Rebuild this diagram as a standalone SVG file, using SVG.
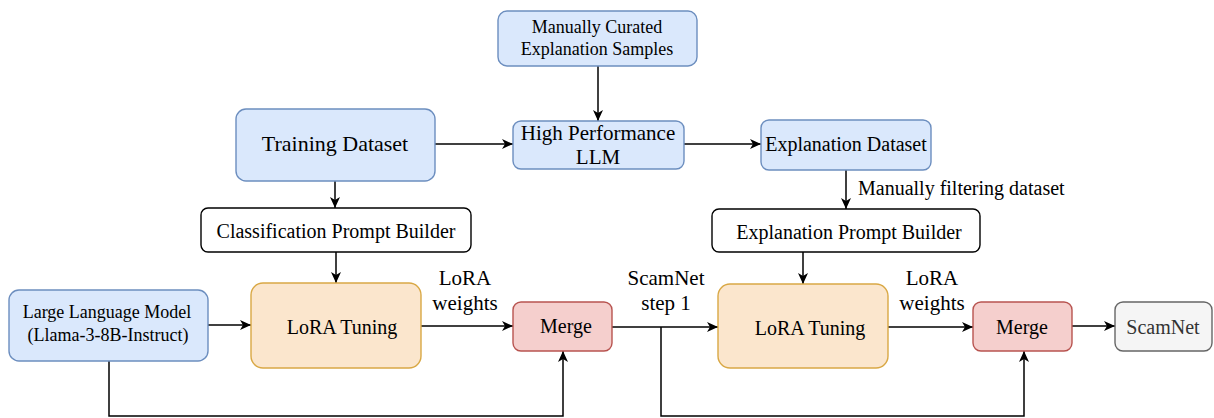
<svg xmlns="http://www.w3.org/2000/svg" width="1214" height="418" viewBox="0 0 1214 418">
<style>
text{font-family:"Liberation Serif","Times New Roman",serif;fill:#000;text-anchor:middle;dominant-baseline:central}
.blue{fill:#dae8fc;stroke:#6c8ebf;stroke-width:1.4}
.white{fill:#fff;stroke:#000;stroke-width:1.4}
.orange{fill:#fbe6cd;stroke:#d9a845;stroke-width:1.4}
.red{fill:#f5cfcd;stroke:#b85450;stroke-width:1.4}
.grey{fill:#f5f5f5;stroke:#666;stroke-width:1.4}
.edge{fill:none;stroke:#000;stroke-width:1.5}
.lbl{font-size:21px}
</style>
<defs>
<marker id="arr" markerUnits="userSpaceOnUse" markerWidth="12" markerHeight="10" refX="11" refY="5" orient="auto">
<path d="M0,0 L11,5 L0,10 L3,5 z" fill="#000"/>
</marker>
</defs>
<g id="connectors">
<path class="edge" d="M598,66 V121" marker-end="url(#arr)"/>
<path class="edge" d="M435,144 H513" marker-end="url(#arr)"/>
<path class="edge" d="M684,144 H761" marker-end="url(#arr)"/>
<path class="edge" d="M846,170 V209" marker-end="url(#arr)"/>
<text x="858" y="188" style="font-size:20px;text-anchor:start">Manually filtering dataset</text>
<path class="edge" d="M335,181 V208" marker-end="url(#arr)"/>
<path class="edge" d="M336,252 V283" marker-end="url(#arr)"/>
<path class="edge" d="M208,325 H251" marker-end="url(#arr)"/>
<path class="edge" d="M421,326 H513" marker-end="url(#arr)"/>
<text class="lbl" x="465" y="278">LoRA</text>
<text class="lbl" x="465" y="303">weights</text>
<path class="edge" d="M109,361 V416 H563 V351" marker-end="url(#arr)"/>
<path class="edge" d="M612,327 H718" marker-end="url(#arr)"/>
<text class="lbl" x="666" y="278">ScamNet</text>
<text class="lbl" x="666" y="303">step 1</text>
<path class="edge" d="M661,327 V416 H1024 V351" marker-end="url(#arr)"/>
<path class="edge" d="M803,252 V284" marker-end="url(#arr)"/>
<path class="edge" d="M888,327 H973" marker-end="url(#arr)"/>
<text class="lbl" x="932" y="278">LoRA</text>
<text class="lbl" x="932" y="303">weights</text>
<path class="edge" d="M1072,326 H1115" marker-end="url(#arr)"/>
</g>
<g id="curated">
<rect class="blue" x="498" y="11" width="199" height="55" rx="9"/>
<text x="597" y="27" style="font-size:18px">Manually Curated</text>
<text x="597" y="49" style="font-size:18px">Explanation Samples</text>
</g>
<g id="training">
<rect class="blue" x="236" y="109" width="199" height="72" rx="10"/>
<text x="335" y="143" style="font-size:22px">Training Dataset</text>
</g>
<g id="hpllm">
<rect class="blue" x="513" y="121" width="171" height="48" rx="8"/>
<text x="598" y="133" style="font-size:21px">High Performance</text>
<text x="598" y="157" style="font-size:21px">LLM</text>
</g>
<g id="explDataset">
<rect class="blue" x="761" y="120" width="170" height="50" rx="8"/>
<text x="846" y="144" style="font-size:20px">Explanation Dataset</text>
</g>
<g id="classPrompt">
<rect class="white" x="201" y="208" width="270" height="44" rx="7"/>
<text x="336" y="231" style="font-size:20px">Classification Prompt Builder</text>
</g>
<g id="explPrompt">
<rect class="white" x="712" y="209" width="268" height="43" rx="7"/>
<text x="849" y="232" style="font-size:20px">Explanation Prompt Builder</text>
</g>
<g id="llm">
<rect class="blue" x="9" y="290" width="199" height="71" rx="10"/>
<text x="107" y="312" style="font-size:18px">Large Language Model</text>
<text x="108" y="335" style="font-size:18px">(Llama-3-8B-Instruct)</text>
</g>
<g id="lora1">
<rect class="orange" x="251" y="283" width="170" height="85" rx="12"/>
<text x="342" y="327" style="font-size:20px">LoRA Tuning</text>
</g>
<g id="lora2">
<rect class="orange" x="718" y="284" width="170" height="84" rx="12"/>
<text x="810" y="328" style="font-size:20px">LoRA Tuning</text>
</g>
<g id="merge1">
<rect class="red" x="513" y="302" width="99" height="49" rx="8"/>
<text x="566" y="326" style="font-size:20px">Merge</text>
</g>
<g id="merge2">
<rect class="red" x="973" y="302" width="99" height="49" rx="8"/>
<text x="1022" y="327" style="font-size:20px">Merge</text>
</g>
<g id="scamnet">
<rect class="grey" x="1115" y="302" width="97" height="49" rx="8"/>
<text x="1163" y="327" style="font-size:20px;fill:#333">ScamNet</text>
</g>
</svg>
